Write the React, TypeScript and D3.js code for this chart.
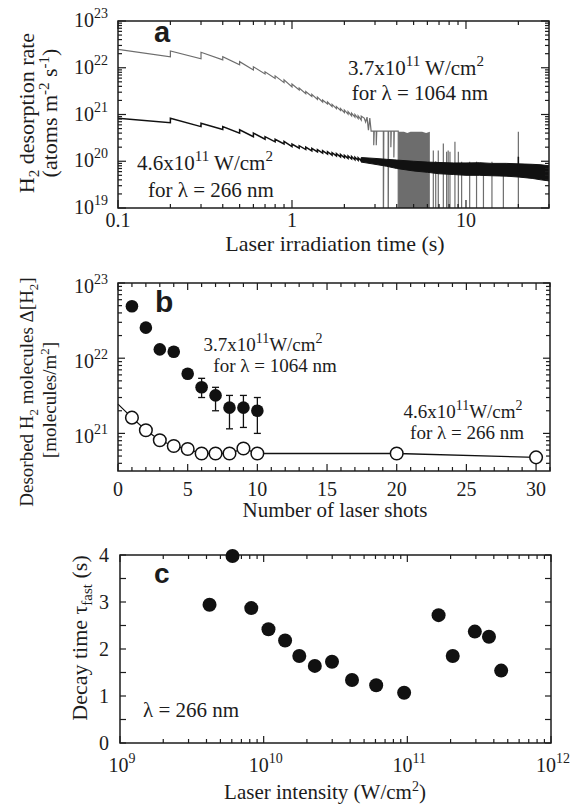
import React from 'react';
import * as d3 from 'd3';

const SERIF = '"Liberation Serif", "Times New Roman", Times, serif';
const SANS = '"Liberation Sans", Arial, Helvetica, sans-serif';
const INK = '#1c1c1c';
const GRAY = '#6d6d6d';

// (a) H2 desorption rate vs laser irradiation time, [t (s), atoms m-2 s-1]
const rate1064 = [
  [0.1, 2.48e22], [0.2, 1.72e22], [0.2, 2.28e22], [0.3, 1.56e22], [0.3, 2.14e22],
  [0.4, 1.47e22], [0.4, 1.72e22], [0.5, 1.15e22], [0.5, 1.35e22], [0.6, 8.95e21],
  [0.6, 1.05e22], [0.7, 7.35e21], [0.7, 8.2e21], [0.8, 5.9e21], [0.8, 6.7e21],
  [0.9, 4.8e21], [0.9, 5.5e21], [1.0, 3.9e21], [1.0, 4.5e21], [1.1, 3.35e21],
  [1.1, 3.7e21], [1.2, 2.8e21], [1.2, 3.1e21], [1.3, 2.43e21], [1.3, 2.7e21],
  [1.4, 2.1e21], [1.4, 2.35e21], [1.5, 1.85e21], [1.5, 2.05e21], [1.6, 1.68e21],
  [1.6, 1.85e21], [1.7, 1.48e21], [1.7, 1.65e21], [1.8, 1.34e21], [1.8, 1.48e21],
  [1.9, 1.22e21], [1.9, 1.34e21], [2.0, 1.1e21], [2.0, 1.25e21], [2.1, 1.02e21],
  [2.1, 1.15e21], [2.2, 9.4e20], [2.2, 1.07e21], [2.3, 8.8e20], [2.3, 1.0e21],
  [2.4, 8.2e20], [2.4, 9.4e20], [2.5, 7.6e20], [2.5, 9.2e20], [2.6, 8.4e20],
  [2.65, 6.9e20], [2.7, 8.8e20], [2.75, 4.6e20], [2.8, 8.4e20], [2.85, 4.4e20],
  [2.95, 4.4e20], [2.95, 2.2e20], [2.97, 4.4e20], [3.05, 4.4e20], [3.05, 2.2e20],
  [3.07, 4.4e20], [3.35, 4.4e20], [3.35, 1e18], [3.37, 4.4e20], [3.57, 4.4e20],
  [3.57, 1e18], [3.59, 4.4e20], [3.7, 4.4e20], [3.7, 2e20], [3.72, 4.4e20],
  [3.85, 4.4e20], [3.85, 1.2e20], [3.87, 4.4e20], [4.08, 4.4e20], [4.08, 1e18],
];
// dense noisy stretch of the 1064 nm signal: [t, upper edge]
const block1064 = [
  [4.08, 4.3e20], [4.4, 4.3e20], [4.6, 4.0e20], [4.8, 4.3e20], [5.2, 4.3e20],
  [5.6, 4.3e20], [5.9, 4.0e20], [6.2, 4.3e20],
];
// isolated bursts of the 1064 nm signal: [t, peak]
const spikes1064 = [
  [6.49, 1.7e20], [6.7, 1.0e20], [6.93, 1.7e20], [7.41, 2.4e20], [7.74, 1.6e20],
  [7.9, 1.7e20], [8.09, 1.6e20], [8.64, 2.6e20], [9.04, 1.6e20], [9.44, 9.8e19],
  [10.5, 9.8e19], [11.5, 9.8e19], [12.6, 9.2e19], [14.1, 9.8e19], [16.4, 8.3e19],
  [20, 4.3e20],
];
const rate266 = [
  [0.1, 8.3e20], [0.2, 6.7e20], [0.2, 8.3e20], [0.3, 5.5e20], [0.3, 6.5e20],
  [0.4, 4.8e20], [0.4, 5.5e20], [0.5, 4.0e20], [0.5, 4.7e20], [0.6, 3.35e20],
  [0.6, 4.0e20], [0.7, 2.95e20], [0.7, 3.35e20], [0.8, 2.6e20], [0.8, 2.95e20],
  [0.9, 2.34e20], [0.9, 2.65e20], [1.0, 2.05e20], [1.0, 2.34e20], [1.1, 1.9e20],
  [1.1, 2.15e20], [1.2, 1.78e20], [1.2, 2.0e20], [1.3, 1.67e20], [1.3, 1.88e20],
  [1.4, 1.58e20], [1.4, 1.77e20], [1.5, 1.5e20], [1.5, 1.68e20], [1.6, 1.42e20],
  [1.6, 1.6e20], [1.7, 1.35e20], [1.7, 1.52e20], [1.8, 1.3e20], [1.8, 1.46e20],
  [1.9, 1.24e20], [1.9, 1.4e20], [2.0, 1.19e20], [2.0, 1.34e20], [2.1, 1.15e20],
  [2.1, 1.3e20], [2.2, 1.12e20], [2.2, 1.26e20], [2.3, 1.08e20], [2.3, 1.22e20],
  [2.4, 1.05e20], [2.4, 1.19e20], [2.5, 1.02e20], [2.5, 1.16e20],
];
// noise band of the 266 nm signal: [t, low, high]
const band266 = [
  [2.5, 9.6e19, 1.2e20], [3, 8.6e19, 1.15e20], [3.5, 7.8e19, 1.1e20], [4, 7e19, 1.06e20],
  [5, 6.2e19, 1.0e20], [6, 5.8e19, 9.6e19], [7, 5.4e19, 9.4e19], [8.5, 5.2e19, 9.2e19],
  [10, 5e19, 9.2e19], [12, 5e19, 9.3e19], [14, 4.9e19, 9e19], [17, 4.8e19, 9e19],
  [20, 4.6e19, 8.8e19], [24, 4.3e19, 8.6e19], [27, 4e19, 8.4e19], [30, 3.8e19, 8e19],
];
const spikes266 = [[20, 1.25e20]];

// (b) desorbed molecules per shot
const shots1064 = [1, 2, 3, 4, 5, 6, 7, 8, 9, 10];
const molecules1064 = [4.9e22, 2.55e22, 1.31e22, 1.22e22, 6.2e21, 4.1e21, 3.2e21, 2.2e21, 2.2e21, 2.0e21];
const errLow1064 = [null, null, null, null, null, 3.0e21, 2.0e21, 1.15e21, 1.2e21, 1.0e21];
const errHigh1064 = [null, null, null, null, null, 5.4e21, 4.1e21, 3.2e21, 3.2e21, 3.0e21];
const shots266 = [0, 1, 2, 3, 4, 5, 6, 7, 8, 9, 10, 20, 30];
const molecules266 = [2.45e21, 1.62e21, 1.1e21, 8.1e20, 6.8e20, 6.2e20, 5.4e20, 5.4e20, 5.4e20, 6.3e20, 5.4e20, 5.4e20, 4.8e20];

// (c) fast decay time vs laser intensity
const intensity = [4.2e9, 6.07e9, 8.2e9, 1.08e10, 1.41e10, 1.77e10, 2.27e10, 2.99e10, 4.12e10, 6.07e10, 9.5e10, 1.65e11, 2.07e11, 2.95e11, 3.7e11, 4.5e11];
const tauFast = [2.94, 3.98, 2.87, 2.42, 2.18, 1.85, 1.64, 1.73, 1.34, 1.23, 1.07, 2.72, 1.85, 2.37, 2.26, 1.54];

const isDecade = (v) => {
  const l = Math.log10(v);
  return Math.abs(l - Math.round(l)) < 1e-6;
};

// box with inward ticks on all four sides
function Frame({ x0, x1, y0, y1, xt, yt }) {
  return (
    <g stroke={INK} fill="none" strokeWidth={1.2}>
      {xt.map((t, i) => (
        <g key={'x' + i}>
          <line x1={t.pos} x2={t.pos} y1={y1} y2={y1 - t.len} />
          <line x1={t.pos} x2={t.pos} y1={y0} y2={y0 + t.len} />
        </g>
      ))}
      {yt.map((t, i) => (
        <g key={'y' + i}>
          <line x1={x0} x2={x0 + t.len} y1={t.pos} y2={t.pos} />
          <line x1={x1} x2={x1 - t.len} y1={t.pos} y2={t.pos} />
        </g>
      ))}
      <rect x={x0} y={y0} width={x1 - x0} height={y1 - y0} strokeWidth={1.5} />
    </g>
  );
}

function PanelA() {
  const x0 = 118, x1 = 549, y0 = 21, y1 = 208;
  const x = d3.scaleLog().domain([0.1, 30]).range([x0, x1]);
  const y = d3.scaleLog().domain([1e19, 1e23]).range([y1, y0]);
  const line = d3.line().x(d => x(d[0])).y(d => y(d[1]));
  const band = d3.area().x(d => x(d[0])).y0(d => y(d[1])).y1(d => y(d[2]));
  const block = d3.area().x(d => x(d[0])).y0(y(1e18)).y1(d => y(d[1]));
  const xt = x.ticks().map(v => ({ pos: x(v), len: isDecade(v) ? 8 : 4 }));
  const yt = y.ticks().map(v => ({ pos: y(v), len: isDecade(v) ? 8 : 4 }));

  return (
    <g>
      <defs>
        <clipPath id="clipA"><rect x={x0} y={y0} width={x1 - x0} height={y1 - y0} /></clipPath>
      </defs>
      <g clipPath="url(#clipA)">
        <path d={line(rate1064)} fill="none" stroke={GRAY} strokeWidth={1.2} />
        <path d={block(block1064)} fill={GRAY} />
        {spikes1064.map((s, i) => (
          <line key={i} x1={x(s[0])} x2={x(s[0])} y1={y(s[1])} y2={y(1e18)} stroke={GRAY} strokeWidth={1.2} />
        ))}
        <path d={line(rate266)} fill="none" stroke="#111" strokeWidth={1.5} />
        <path d={band(band266)} fill="#111" stroke="#111" strokeWidth={1} />
        {spikes266.map((s, i) => (
          <line key={i} x1={x(s[0])} x2={x(s[0])} y1={y(s[1])} y2={y(6e19)} stroke="#111" strokeWidth={1.5} />
        ))}
      </g>
      <Frame x0={x0} x1={x1} y0={y0} y1={y1} xt={xt} yt={yt} />
      <g fill={INK} fontFamily={SERIF}>
        {[0.1, 1, 10].map(v => (
          <text key={v} x={x(v)} y={227} textAnchor="middle" fontSize={20}>{String(v)}</text>
        ))}
        {y.ticks().filter(isDecade).map(v => (
          <text key={v} x={108} y={y(v) + 6} textAnchor="end" fontSize={20}>
            10<tspan dy={-9} fontSize={14}>{Math.round(Math.log10(v))}</tspan>
          </text>
        ))}
        <text x={335} y={251} textAnchor="middle" fontSize={22}>Laser irradiation time (s)</text>
        <text transform="translate(34,113) rotate(-90)" textAnchor="middle" fontSize={22}>
          H<tspan dy={5} fontSize={15}>2</tspan><tspan dy={-5}> desorption rate</tspan>
        </text>
        <text transform="translate(57,113) rotate(-90)" textAnchor="middle" fontSize={22}>
          (atoms m<tspan dy={-8} fontSize={15}>-2</tspan><tspan dy={8}> s</tspan><tspan dy={-8} fontSize={15}>-1</tspan><tspan dy={8}>)</tspan>
        </text>
        <text x={416} y={75} textAnchor="middle" fontSize={21}>
          3.7x10<tspan dy={-9} fontSize={15}>11</tspan><tspan dy={9}> W/cm</tspan><tspan dy={-9} fontSize={15}>2</tspan>
        </text>
        <text x={420} y={100} textAnchor="middle" fontSize={21}>for λ = 1064 nm</text>
        <text x={205} y={170} textAnchor="middle" fontSize={21}>
          4.6x10<tspan dy={-9} fontSize={15}>11</tspan><tspan dy={9}> W/cm</tspan><tspan dy={-9} fontSize={15}>2</tspan>
        </text>
        <text x={211} y={197} textAnchor="middle" fontSize={21}>for λ = 266 nm</text>
        <text x={154} y={42} fontFamily={SANS} fontWeight="bold" fontSize={29}>a</text>
      </g>
    </g>
  );
}

function PanelB() {
  const x0 = 118, x1 = 550, y0 = 283, y1 = 471;
  const x = d3.scaleLinear().domain([0, 31]).range([x0, x1]);
  const y = d3.scaleLog().domain([Math.pow(10, 20.5), 1e23]).range([y1, y0]);
  const line = d3.line().x(d => x(d[0])).y(d => y(d[1]));
  const pts266 = shots266.map((s, i) => [s, molecules266[i]]);
  const xt = d3.range(0, 32, 1).map(v => ({ pos: x(v), len: v % 5 === 0 ? 7 : 4 }));
  const yt = y.ticks().map(v => ({ pos: y(v), len: isDecade(v) ? 7 : 4 }));

  return (
    <g>
      <path d={line(pts266)} fill="none" stroke="#111" strokeWidth={1.3} />
      <g stroke="#111" strokeWidth={1.3}>
        {shots1064.map((s, i) => errLow1064[i] == null ? null : (
          <g key={i}>
            <line x1={x(s)} x2={x(s)} y1={y(errLow1064[i])} y2={y(errHigh1064[i])} />
            <line x1={x(s) - 3.5} x2={x(s) + 3.5} y1={y(errLow1064[i])} y2={y(errLow1064[i])} />
            <line x1={x(s) - 3.5} x2={x(s) + 3.5} y1={y(errHigh1064[i])} y2={y(errHigh1064[i])} />
          </g>
        ))}
      </g>
      {shots1064.map((s, i) => (
        <circle key={i} cx={x(s)} cy={y(molecules1064[i])} r={6.3} fill="#111" />
      ))}
      {pts266.filter(p => p[0] > 0).map((p, i) => (
        <circle key={i} cx={x(p[0])} cy={y(p[1])} r={6.3} fill="#fff" stroke="#111" strokeWidth={1.5} />
      ))}
      <Frame x0={x0} x1={x1} y0={y0} y1={y1} xt={xt} yt={yt} />
      <g fill={INK} fontFamily={SERIF}>
        {[0, 5, 10, 15, 20, 25, 30].map(v => (
          <text key={v} x={x(v)} y={496} textAnchor="middle" fontSize={20}>{v}</text>
        ))}
        {[1e21, 1e22, 1e23].map(v => (
          <text key={v} x={108} y={y(v) + 10} textAnchor="end" fontSize={20}>
            10<tspan dy={-9} fontSize={14}>{Math.round(Math.log10(v))}</tspan>
          </text>
        ))}
        <text x={335} y={517} textAnchor="middle" fontSize={21}>Number of laser shots</text>
        <text transform="translate(33,392) rotate(-90)" textAnchor="middle" fontSize={19}>
          Desorbed H<tspan dy={5} fontSize={13}>2</tspan><tspan dy={-5}> molecules Δ[H</tspan><tspan dy={5} fontSize={13}>2</tspan><tspan dy={-5}>]</tspan>
        </text>
        <text transform="translate(56,400) rotate(-90)" textAnchor="middle" fontSize={19}>
          [molecules/m<tspan dy={-7} fontSize={13}>2</tspan><tspan dy={7}>]</tspan>
        </text>
        <text x={263} y={351} textAnchor="middle" fontSize={19}>
          3.7x10<tspan dy={-8} fontSize={14}>11</tspan><tspan dy={8}>W/cm</tspan><tspan dy={-8} fontSize={14}>2</tspan>
        </text>
        <text x={275} y={372} textAnchor="middle" fontSize={19}>for λ = 1064 nm</text>
        <text x={463} y={418} textAnchor="middle" fontSize={19}>
          4.6x10<tspan dy={-8} fontSize={14}>11</tspan><tspan dy={8}>W/cm</tspan><tspan dy={-8} fontSize={14}>2</tspan>
        </text>
        <text x={467} y={439} textAnchor="middle" fontSize={19}>for λ = 266 nm</text>
        <text x={155} y={312} fontFamily={SANS} fontWeight="bold" fontSize={30}>b</text>
      </g>
    </g>
  );
}

function PanelC() {
  const x0 = 120, x1 = 551, y0 = 555, y1 = 743;
  const x = d3.scaleLog().domain([1e9, 1e12]).range([x0, x1]);
  const y = d3.scaleLinear().domain([0, 4]).range([y1, y0]);
  const xt = x.ticks().map(v => ({ pos: x(v), len: isDecade(v) ? 7 : 4 }));
  const yt = d3.range(0, 4.01, 0.5).map(v => ({ pos: y(v), len: 6 }));

  return (
    <g>
      <Frame x0={x0} x1={x1} y0={y0} y1={y1} xt={xt} yt={yt} />
      {intensity.map((v, i) => (
        <circle key={i} cx={x(v)} cy={y(tauFast[i])} r={7} fill="#111" />
      ))}
      <g fill={INK} fontFamily={SERIF}>
        {[1e9, 1e10, 1e11, 1e12].map(v => (
          <text key={v} x={x(v) + 2} y={772} textAnchor="middle" fontSize={20}>
            10<tspan dy={-9} fontSize={14}>{Math.round(Math.log10(v))}</tspan>
          </text>
        ))}
        {[0, 1, 2, 3, 4].map(v => (
          <text key={v} x={109} y={y(v) + 7} textAnchor="end" fontSize={20}>{v}</text>
        ))}
        <text x={325} y={799} textAnchor="middle" fontSize={21}>
          Laser intensity (W/cm<tspan dy={-8} fontSize={14}>2</tspan><tspan dy={8}>)</tspan>
        </text>
        <text transform="translate(87,638) rotate(-90)" textAnchor="middle" fontSize={22}>
          Decay time τ<tspan dy={5} fontSize={15}>fast</tspan><tspan dy={-5}> (s)</tspan>
        </text>
        <text x={143} y={717} fontSize={21}>λ = 266 nm</text>
        <text x={154} y={583} fontFamily={SANS} fontWeight="bold" fontSize={28}>c</text>
      </g>
    </g>
  );
}

export default function App() {
  return (
    <svg width={583} height={806} style={{ position: 'absolute', left: 0, top: 0, background: '#fff' }}>
      <rect width={583} height={806} fill="#fff" />
      <PanelA />
      <PanelB />
      <PanelC />
    </svg>
  );
}
